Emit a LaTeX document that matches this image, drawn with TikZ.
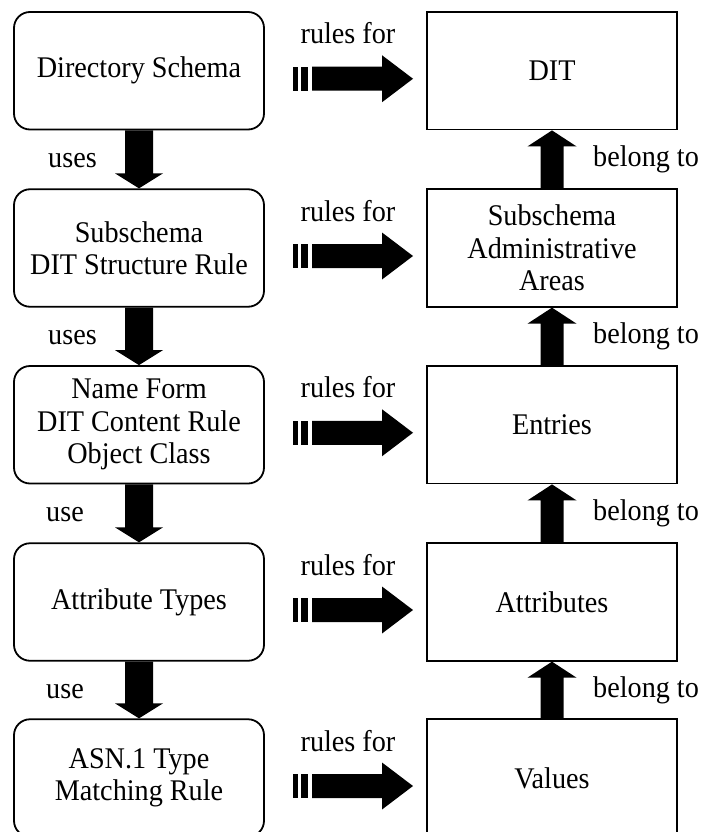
\documentclass[tikz,border=0pt]{standalone}
\usepackage{fontspec}
\setmainfont{Liberation Serif}[FakeStretch=0.94]
\usetikzlibrary{calc}

% solid block arrow pointing down, from the bottom of #1 to the top of #2
\newcommand\BlockDown[2]{%
  \fill ($(#1.south)+(-14,0)$) -- ($(#2.north)+(-14,-15)$) -- ($(#2.north)+(-24,-15)$)
    -- (#2.north) -- ($(#2.north)+(24,-15)$) -- ($(#2.north)+(14,-15)$)
    -- ($(#1.south)+(14,0)$) -- cycle;}
% solid block arrow pointing up, from the top of #1 to the bottom of #2
\newcommand\BlockUp[2]{%
  \fill ($(#1.north)+(-11.5,0)$) -- ($(#2.south)+(-11.5,16)$) -- ($(#2.south)+(-24.5,16)$)
    -- (#2.south) -- ($(#2.south)+(24.5,16)$) -- ($(#2.south)+(11.5,16)$)
    -- ($(#1.north)+(11.5,0)$) -- cycle;}

\begin{document}
\begin{tikzpicture}[x=1pt,y=-1pt,
  every node/.style={font=\fontsize{30}{32.5}\selectfont},
  schemabox/.style={draw,line width=1.8pt,rounded corners=16pt,
    minimum width=250pt,minimum height=117.5pt,align=center,inner sep=0pt},
  itembox/.style={draw,line width=1.8pt,
    minimum width=250pt,minimum height=117.5pt,align=center,inner sep=0pt},
  lbl/.style={anchor=base west,inner sep=0pt},
  rulelbl/.style={anchor=base,inner sep=0pt},
  stripedarrow/.pic={
    \fill (-60,-12) rectangle (-55,12);
    \fill (-52,-12) rectangle (-45,12);
    \fill (-41,-12) -- (29,-12) -- (29,-23.5) -- (60,0) -- (29,23.5)
      -- (29,12) -- (-41,12) -- cycle;
  }
]
\useasboundingbox (0,0) rectangle (704,832);
\clip (0,0) rectangle (704,832);

% schema side
\node[schemabox] (l1) at (139,70.75) {Directory Schema};
\node[schemabox] (l2) at (139,248)   {Subschema\\DIT Structure Rule};
\node[schemabox] (l3) at (139,424.75){Name Form\\DIT Content Rule\\Object Class};
\node[schemabox] (l4) at (139,602)   {Attribute Types};
\node[schemabox] (l5) at (139,778)   {ASN.1 Type\\Matching Rule};

% information side
\node[itembox] (r1) at (552,70.75) {DIT};
\node[itembox] (r2) at (552,248)   {Subschema\\Administrative\\Areas};
\node[itembox] (r3) at (552,424.75){Entries};
\node[itembox] (r4) at (552,602)   {Attributes};
\node[itembox] (r5) at (552,778)   {Values};

% "uses" chain
\BlockDown{l1}{l2}
\BlockDown{l2}{l3}
\BlockDown{l3}{l4}
\BlockDown{l4}{l5}
\node[lbl] (u1) at ($(l1.south)!0.5!(l2.north)+(-91,8)$) {uses};
\node[lbl] (u2) at ($(l2.south)!0.5!(l3.north)+(-91,8)$) {uses};
\node[lbl] (u3) at ($(l3.south)!0.5!(l4.north)+(-93,8)$) {use};
\node[lbl] (u4) at ($(l4.south)!0.5!(l5.north)+(-93,8)$) {use};

% "belong to" chain
\BlockUp{r2}{r1}
\BlockUp{r3}{r2}
\BlockUp{r4}{r3}
\BlockUp{r5}{r4}
\node[lbl] (b1) at ($(r1.south)!0.5!(r2.north)+(41,7)$) {belong to};
\node[lbl] (b2) at ($(r2.south)!0.5!(r3.north)+(41,7)$) {belong to};
\node[lbl] (b3) at ($(r3.south)!0.5!(r4.north)+(41,7)$) {belong to};
\node[lbl] (b4) at ($(r4.south)!0.5!(r5.north)+(41,7)$) {belong to};

% "rules for" striped arrows
\foreach \i in {1,...,5}{
  \pic at ($(l\i.east)!0.5!(r\i.west)+(7.5,8)$) {stripedarrow};
  \node[rulelbl] (rf\i) at ($(l\i.east)!0.5!(r\i.west)+(2.5,-27)$) {rules for};
}
\end{tikzpicture}
\end{document}
